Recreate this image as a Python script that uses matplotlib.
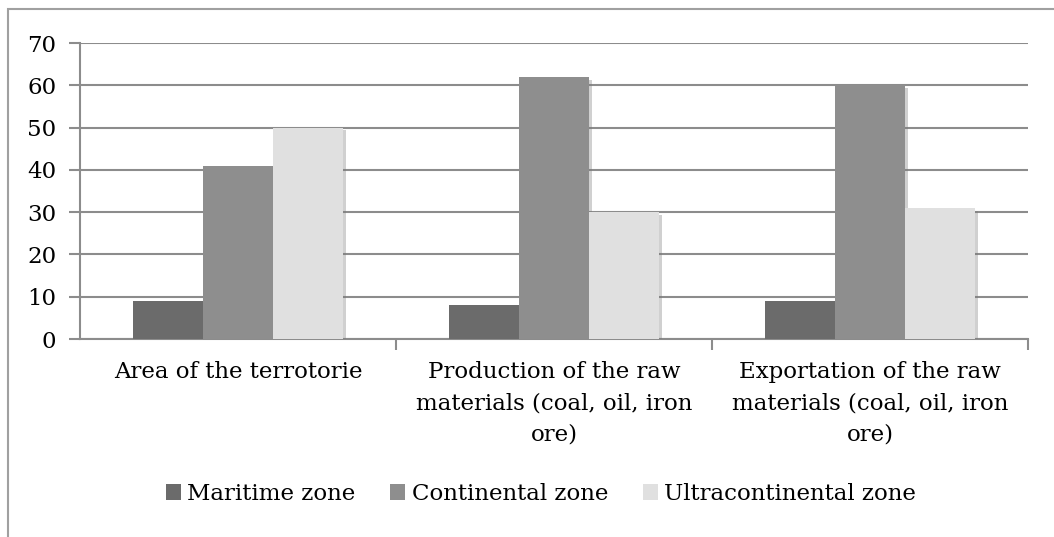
import matplotlib
matplotlib.use("Agg")
import matplotlib.pyplot as plt
import matplotlib.patheffects as pe
from matplotlib.patches import Rectangle, Patch
import numpy as np

categories = [
    "Area of the terrotorie",
    "Production of the raw\nmaterials (coal, oil, iron\nore)",
    "Exportation of the raw\nmaterials (coal, oil, iron\nore)",
]
series_names = ["Maritime zone", "Continental zone", "Ultracontinental zone"]
maritime = [9, 8, 9]
continental = [41, 62, 60]
ultracontinental = [50, 30, 31]
y_ticks = [0, 10, 20, 30, 40, 50, 60, 70]

colors = ["#6b6b6b", "#8e8e8e", "#e0e0e0"]
grid_color = "#8c8c8c"

plt.rcParams["font.family"] = ["DejaVu Serif"]
FS = 16.5

W, H = 1054, 537
fig = plt.figure(figsize=(W / 100, H / 100), dpi=100)

# outer chart border (cut off at right and bottom in the reference)
fig.patches.append(Rectangle((8 / W, -0.05), 1.2, 1 - 9 / H + 0.05,
                             transform=fig.transFigure, fill=False,
                             edgecolor="#a0a0a0", linewidth=1.5))

ax = fig.add_axes([80 / W, 1 - 339 / H, (1028 - 80) / W, (339 - 43) / H])

x = np.arange(len(categories))
bw = 0.222
shadow = [pe.SimplePatchShadow(offset=(2, -2), shadow_rgbFace="#7a7a7a", alpha=0.35),
          pe.Normal()]
for i, (vals, c) in enumerate(zip([maritime, continental, ultracontinental], colors)):
    ax.bar(x + (i - 1) * bw, vals, bw, color=c, zorder=3, path_effects=shadow)

ax.set_xlim(-0.5, len(categories) - 0.5)
ax.set_ylim(0, 70)
ax.set_yticks(y_ticks)
ax.set_yticklabels([str(v) for v in y_ticks], fontsize=FS)
ax.yaxis.grid(True, color=grid_color, linewidth=1.5, zorder=0)
ax.set_axisbelow(True)

ax.set_xticks(x)
ax.set_xticklabels(categories, fontsize=FS, linespacing=1.55, va="top")
ax.set_xticks(np.arange(0.5, len(categories), 1.0), minor=True)
ax.tick_params(axis="x", which="major", length=0, pad=16)
ax.tick_params(axis="x", which="minor", length=8, width=1.5, color=grid_color)
ax.tick_params(axis="y", length=8, width=1.5, color=grid_color, pad=9)

for s in ["top", "right"]:
    ax.spines[s].set_visible(False)
for s in ["left", "bottom"]:
    ax.spines[s].set_color(grid_color)
    ax.spines[s].set_linewidth(1.5)

handles = [Patch(facecolor=c, label=n) for c, n in zip(colors, series_names)]
fig.legend(handles=handles, loc="center", bbox_to_anchor=(541 / W, 1 - 494 / H),
           ncol=3, frameon=False, fontsize=FS, handlelength=0.65, handleheight=0.65,
           handletextpad=0.3, columnspacing=1.5)

fig.savefig("out.png", dpi=100)
